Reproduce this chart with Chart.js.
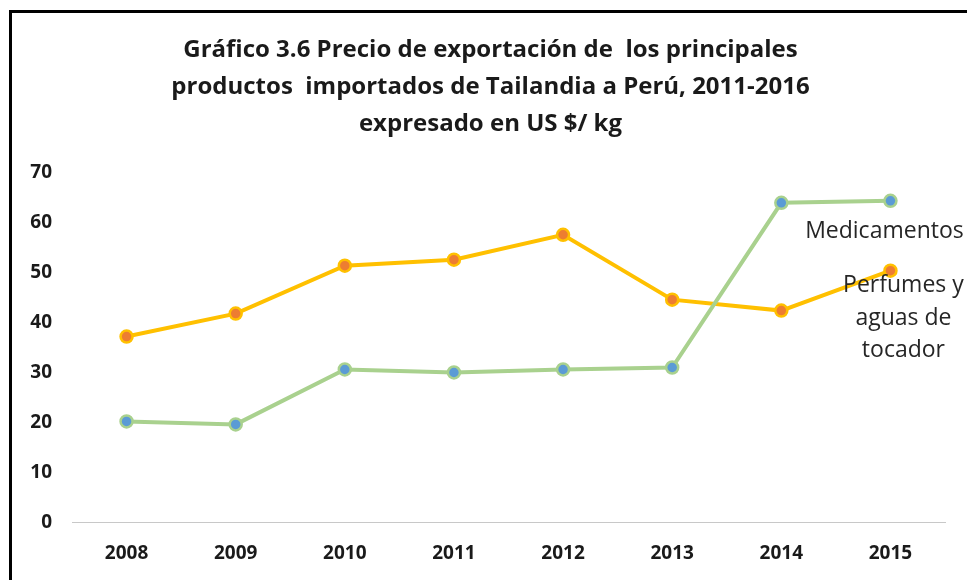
<!DOCTYPE html>
<html>
<head>
<meta charset="utf-8">
<script src="https://cdn.jsdelivr.net/npm/chart.js@4/dist/chart.umd.min.js"></script>
<style>
  html, body { margin: 0; padding: 0; background: #fff; overflow: hidden; }
  canvas { display: block; }
</style>
</head>
<body>
<canvas id="chart" width="967" height="580"></canvas>
<script>
const years = ['2008', '2009', '2010', '2011', '2012', '2013', '2014', '2015'];
const medicamentos = [20.2, 19.6, 30.6, 30.0, 30.6, 31.0, 64.0, 64.4];
const perfumes = [37.2, 41.8, 51.4, 52.6, 57.6, 44.6, 42.4, 50.4];
const titleLines = [
  'Gráfico 3.6 Precio de exportación de  los principales',
  'productos  importados de Tailandia a Perú, 2011-2016',
  'expresado en US $/ kg'
];

const fontFamily = '"Open Sans", "Liberation Sans", sans-serif';
// en spaces in front of each title line nudge it right, like the original
const titleIndent = '\u2002\u2002\u2002';

// frame around the chart plus the text labels next to the lines
const extras = {
  id: 'extras',
  beforeDraw(chart) {
    const ctx = chart.ctx;
    ctx.save();
    ctx.fillStyle = '#000';
    ctx.fillRect(9, 10, 958, 3);
    ctx.fillRect(9, 10, 3, 570);
    ctx.restore();
  },
  afterDatasetsDraw(chart) {
    const ctx = chart.ctx;
    const x = chart.scales.x;
    const y = chart.scales.y;
    const last = years.length - 1;
    ctx.save();
    ctx.fillStyle = '#262626';
    ctx.font = '23px ' + fontFamily;
    ctx.textAlign = 'center';
    ctx.textBaseline = 'middle';
    ctx.fillText('Medicamentos', x.getPixelForValue(last) - 6, y.getPixelForValue(58.2));
    ['Perfumes y', 'aguas de', 'tocador'].forEach((t, i) => {
      ctx.fillText(t, x.getPixelForValue(last) + 13, y.getPixelForValue(47.4) + i * 32.5);
    });
    ctx.restore();
  }
};

new Chart(document.getElementById('chart'), {
  type: 'line',
  data: {
    labels: years,
    datasets: [
      {
        label: 'Medicamentos',
        data: medicamentos,
        borderColor: '#a9d18e',
        backgroundColor: '#5b9bd5',
        borderWidth: 4,
        pointRadius: 6,
        pointBorderWidth: 2.5,
        pointBorderColor: '#a9d18e',
        pointBackgroundColor: '#5b9bd5',
        tension: 0
      },
      {
        label: 'Perfumes y aguas de tocador',
        data: perfumes,
        borderColor: '#ffc000',
        backgroundColor: '#ed7d31',
        borderWidth: 4,
        pointRadius: 6,
        pointBorderWidth: 2.5,
        pointBorderColor: '#ffc000',
        pointBackgroundColor: '#ed7d31',
        tension: 0
      }
    ]
  },
  options: {
    responsive: false,
    animation: false,
    layout: { padding: { left: 0, right: 22, top: 14, bottom: -5 } },
    plugins: {
      legend: { display: false },
      tooltip: { enabled: false },
      title: {
        display: true,
        text: titleLines.map(t => titleIndent + t),
        color: '#1a1a1a',
        font: { family: fontFamily, size: 24, weight: 'bold', lineHeight: 1.54 },
        padding: { top: 18, bottom: 30 }
      }
    },
    scales: {
      x: {
        offset: true,
        grid: { display: false, drawTicks: false },
        border: { display: true, color: '#c8c8c8', width: 1, dash: [2, 2] },
        ticks: {
          color: '#1a1a1a',
          padding: 20,
          font: { family: fontFamily, size: 19, weight: 'bold' }
        }
      },
      y: {
        min: 0,
        max: 70,
        grid: { display: false, drawTicks: false },
        border: { display: false },
        afterFit(scale) { scale.width = 72; },
        ticks: {
          stepSize: 10,
          color: '#1a1a1a',
          padding: 20,
          font: { family: fontFamily, size: 19, weight: 'bold' }
        }
      }
    }
  },
  plugins: [extras]
});
</script>
</body>
</html>
